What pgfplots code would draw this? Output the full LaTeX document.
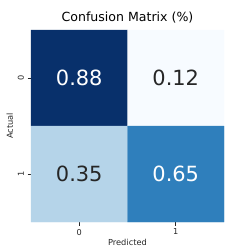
\documentclass[border=0pt]{standalone}
\usepackage{pgfplots}
\pgfplotsset{compat=1.18}
\usepackage{fontspec}
\setmainfont{DejaVu Sans}
\definecolor{txt}{HTML}{262626}
\begin{document}
\begin{tikzpicture}
\begin{axis}[
  at={(0,0)}, anchor=south west,
  scale only axis, width=193bp, height=192bp,
  xmin=-0.5, xmax=1.5, ymin=-0.5, ymax=1.5,
  y dir=reverse,
  axis line style={draw=none},
  xtick={0,1}, ytick={0,1},
  xticklabels={0,1}, yticklabels={0,1},
  tick style={txt, line width=0.6pt},
  major tick length=3.5bp,
  tick align=outside,
  xtick pos=bottom, ytick pos=left,
  tick label style={font=\fontsize{8.2}{9}\selectfont, text=txt},
  yticklabel style={rotate=90, anchor=south},
  /pgf/number format/assume math mode=true,
  xlabel={Predicted}, ylabel={Actual},
  label style={font=\fontsize{8.3}{10}\selectfont, text=txt},
  xlabel style={yshift=3bp},
  ylabel style={yshift=-2bp},
  title={Confusion Matrix (\%)},
  title style={font=\fontsize{12.6}{14}\selectfont, yshift=-3bp},
  colormap={Blues}{rgb255=(247,251,255) rgb255=(222,235,247) rgb255=(198,219,239) rgb255=(158,202,225) rgb255=(107,174,214) rgb255=(66,146,198) rgb255=(33,113,181) rgb255=(8,81,156) rgb255=(8,48,107)},
  point meta min=0.12, point meta max=0.88,
  clip=false,
]
\addplot[matrix plot*, mesh/cols=2, mesh/rows=2, point meta=explicit, shader=flat corner] table[meta=v] {
x y v
0 0 0.88
1 0 0.12
0 1 0.35
1 1 0.65
};
\addplot[only marks, mark=none, nodes near coords, point meta=explicit symbolic,
  nodes near coords style={white, font=\fontsize{21}{24}\selectfont, anchor=center}]
  coordinates {(0,0)[0.88] (1,1)[0.65]};
\addplot[only marks, mark=none, nodes near coords, point meta=explicit symbolic,
  nodes near coords style={txt, font=\fontsize{21}{24}\selectfont, anchor=center}]
  coordinates {(1,0)[0.12] (0,1)[0.35]};
\end{axis}
\path[use as bounding box] (-31bp,-27bp) rectangle (218bp,222bp);
\end{tikzpicture}
\end{document}
